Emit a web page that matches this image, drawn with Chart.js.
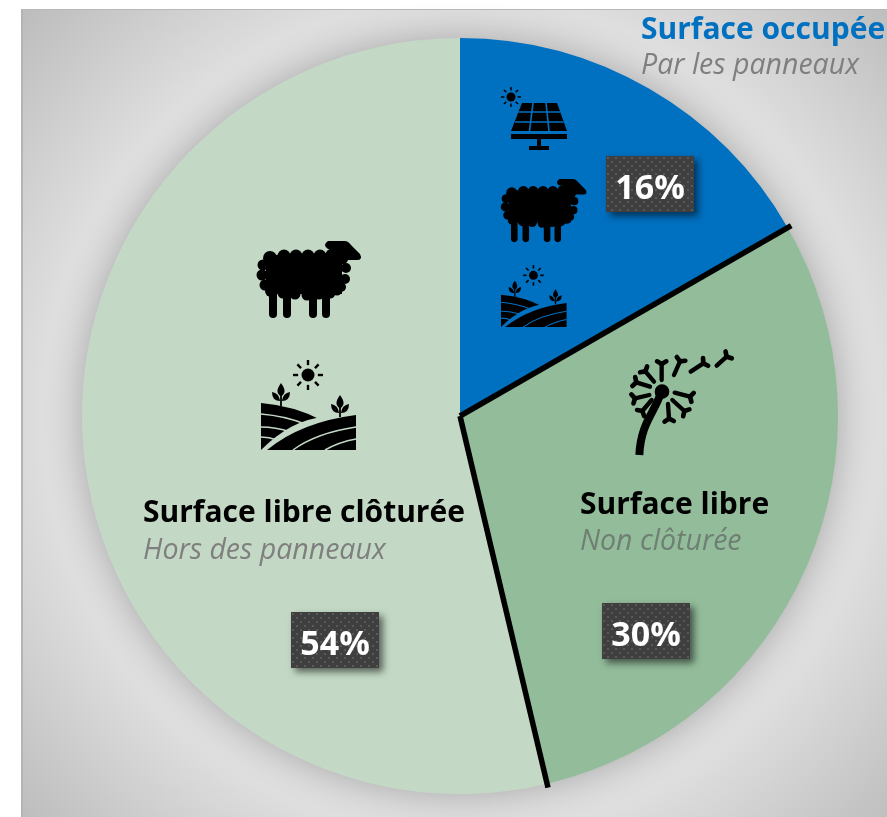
<!DOCTYPE html>
<html lang="fr">
<head>
<meta charset="utf-8">
<title>Surface</title>
<script src="https://cdn.jsdelivr.net/npm/chart.js@4"></script>
<style>
  html, body { margin: 0; padding: 0; background: #fff; overflow: hidden; }
  #fond {
    position: absolute; left: 21px; top: 9px; width: 866px; height: 808px;
    box-sizing: border-box;
    border-left: 2px solid #b4b4b4; border-top: 1px solid #b8b8b8;
    background: radial-gradient(circle at 439px 407px, #e0e0e0 0, #dedede 420px, #bcbcbc 600px);
  }
  #graphique { position: absolute; left: 0; top: 0; }
</style>
</head>
<body>
<div id="fond"></div>
<canvas id="graphique" width="887" height="817"></canvas>
<script>
// Donnees du graphique
const categories = ["Surface occupée", "Surface libre", "Surface libre clôturée"];
const sousTitres = ["Par les panneaux", "Non clôturée", "Hors des panneaux"];
const parts = [16.7, 29.6, 53.7];
const etiquettes = ["16%", "30%", "54%"];
const couleurs = ["#0070c0", "#93bc9b", "#c3d9c5"];

const POLICE = '"Open Sans", "Noto Sans", sans-serif';

// Motif de points des etiquettes
function creerMotif(ctx) {
  const c = document.createElement("canvas");
  c.width = 8;
  c.height = 8;
  const p = c.getContext("2d");
  p.fillStyle = "#3f3f3f";
  p.fillRect(0, 0, 8, 8);
  p.fillStyle = "#595959";
  p.fillRect(1, 1, 2, 2);
  p.fillRect(5, 5, 2, 2);
  return ctx.createPattern(c, "repeat");
}

function dessinerEtiquette(ctx, texte, x, y) {
  ctx.save();
  ctx.shadowColor = "rgba(0,0,0,0.55)";
  ctx.shadowBlur = 7;
  ctx.shadowOffsetX = 4;
  ctx.shadowOffsetY = 4;
  ctx.fillStyle = "#3f3f3f";
  ctx.fillRect(x, y, 88, 56);
  ctx.restore();
  ctx.save();
  ctx.translate(x, y);
  ctx.fillStyle = creerMotif(ctx);
  ctx.fillRect(0, 0, 88, 56);
  ctx.restore();
  ctx.fillStyle = "#fff";
  ctx.font = "bold 34px " + POLICE;
  ctx.textAlign = "center";
  ctx.textBaseline = "alphabetic";
  ctx.fillText(texte, x + 44, y + 43);
}

function dessinerTexte(ctx, texte, x, y, font, couleur) {
  ctx.font = font;
  ctx.fillStyle = couleur;
  ctx.textAlign = "left";
  ctx.textBaseline = "alphabetic";
  ctx.fillText(texte, x, y);
}

function dessinerMouton(ctx, x, y, k) {
  ctx.save();
  ctx.translate(x, y);
  ctx.scale(k, k);
  ctx.fillStyle = "#000";
  ctx.strokeStyle = "#000";
  // pattes
  ctx.lineCap = "round";
  ctx.lineWidth = 8;
  [15, 29, 55, 68].forEach((px) => {
    ctx.beginPath();
    ctx.moveTo(px, 42);
    ctx.lineTo(px, 73);
    ctx.stroke();
  });
  // corps
  ctx.fillRect(8, 14, 76, 39);
  [[12, 17, 7], [26, 15, 6.5], [38, 15, 6.5], [50, 15, 6.5], [62, 15, 6.5], [74, 14, 6.5],
   [84, 17, 6.5], [5, 24, 5.5], [4, 34, 5.5], [7, 44, 5.5], [88, 27, 5], [87, 38, 5],
   [83, 46, 5], [13, 50, 6], [25, 52, 5.5], [37, 53, 5.5], [49, 54, 5.5], [61, 53, 5.5],
   [72, 52, 5.5], [79, 50, 4.5]].forEach((c) => {
    ctx.beginPath();
    ctx.arc(c[0], c[1], c[2], 0, Math.PI * 2);
    ctx.fill();
  });
  // tete
  ctx.beginPath();
  ctx.moveTo(70, 0);
  ctx.lineTo(87, 0);
  ctx.quadraticCurveTo(90, 0, 93, 4);
  ctx.lineTo(102, 13);
  ctx.quadraticCurveTo(105, 19, 99, 19);
  ctx.lineTo(80, 19);
  ctx.lineTo(72, 14);
  ctx.lineTo(74, 8);
  ctx.lineTo(70, 8);
  ctx.quadraticCurveTo(64, 4, 70, 0);
  ctx.fill();
  ctx.restore();
}

function dessinerSoleil(ctx, x, y, r, rayon, largeur) {
  ctx.save();
  ctx.fillStyle = "#000";
  ctx.strokeStyle = "#000";
  ctx.lineWidth = largeur;
  ctx.beginPath();
  ctx.arc(x, y, r, 0, Math.PI * 2);
  ctx.fill();
  for (let i = 0; i < 8; i++) {
    const a = (i * Math.PI) / 4;
    ctx.beginPath();
    ctx.moveTo(x + Math.cos(a) * (r + largeur * 1.4), y + Math.sin(a) * (r + largeur * 1.4));
    ctx.lineTo(x + Math.cos(a) * rayon, y + Math.sin(a) * rayon);
    ctx.stroke();
  }
  ctx.restore();
}

function dessinerPlante(ctx, x, haut, bas) {
  ctx.strokeStyle = "#000";
  ctx.fillStyle = "#000";
  ctx.lineWidth = 1.8;
  ctx.beginPath();
  ctx.moveTo(x, haut + 6);
  ctx.lineTo(x, bas);
  ctx.stroke();
  ctx.beginPath();
  ctx.moveTo(x, haut);
  ctx.bezierCurveTo(x + 2, haut + 3, x + 4, haut + 6, x + 3.5, haut + 9);
  ctx.quadraticCurveTo(x + 2, haut + 13, x, haut + 13);
  ctx.quadraticCurveTo(x - 2, haut + 13, x - 3.5, haut + 9);
  ctx.bezierCurveTo(x - 4, haut + 6, x - 2, haut + 3, x, haut);
  ctx.fill();
  [-1, 1].forEach((s) => {
    ctx.beginPath();
    ctx.moveTo(x + s * 0.8, haut + 18);
    ctx.quadraticCurveTo(x + s * 9, haut + 18, x + s * 9, haut + 9);
    ctx.quadraticCurveTo(x + s * 2, haut + 10, x + s * 0.8, haut + 18);
    ctx.fill();
  });
}

function dessinerChamp(ctx, x, y, k, fond) {
  ctx.save();
  ctx.translate(x, y);
  ctx.scale(k, k);
  dessinerSoleil(ctx, 47, 15, 6.5, 15, 2.4);
  dessinerPlante(ctx, 20, 23, 46);
  dessinerPlante(ctx, 79, 35, 57);
  ctx.fillStyle = "#000";
  // colline gauche
  ctx.beginPath();
  ctx.moveTo(0, 43);
  ctx.quadraticCurveTo(34, 46, 60, 60);
  ctx.lineTo(60, 90);
  ctx.lineTo(0, 90);
  ctx.closePath();
  ctx.fill();
  ctx.strokeStyle = fond;
  ctx.lineWidth = 1.5;
  [[0, 54, 24, 56, 44, 64], [0, 67, 14, 67, 30, 72], [0, 77, 8, 77, 16, 80]].forEach((s) => {
    ctx.beginPath();
    ctx.moveTo(s[0], s[1]);
    ctx.quadraticCurveTo(s[2], s[3], s[4], s[5]);
    ctx.stroke();
  });
  // colline droite
  ctx.fillStyle = fond;
  ctx.beginPath();
  ctx.moveTo(0, 90);
  ctx.quadraticCurveTo(30, 60, 62, 57);
  ctx.lineTo(62, 90);
  ctx.closePath();
  ctx.fill();
  ctx.fillStyle = "#000";
  ctx.beginPath();
  ctx.moveTo(6, 90);
  ctx.quadraticCurveTo(40, 62, 95, 55);
  ctx.lineTo(95, 90);
  ctx.closePath();
  ctx.fill();
  [[32, 90, 55, 73, 95, 67], [64, 90, 78, 82, 95, 79]].forEach((s) => {
    ctx.beginPath();
    ctx.moveTo(s[0], s[1]);
    ctx.quadraticCurveTo(s[2], s[3], s[4], s[5]);
    ctx.stroke();
  });
  ctx.restore();
}

function dessinerPanneau(ctx, fond) {
  dessinerSoleil(ctx, 511, 97, 4.5, 10, 1.5);
  ctx.fillStyle = "#000";
  ctx.beginPath();
  ctx.moveTo(522, 103);
  ctx.lineTo(557, 103);
  ctx.lineTo(567, 131);
  ctx.lineTo(511, 131);
  ctx.closePath();
  ctx.fill();
  ctx.fillRect(511, 134, 56, 5);
  ctx.fillRect(537, 139, 4, 8);
  ctx.fillRect(529, 146, 20, 4);
  ctx.strokeStyle = fond;
  ctx.lineWidth = 1.6;
  [[518.5, 112, 560.5, 112], [515, 122, 563.5, 122], [533, 103, 529.5, 131], [546, 103, 549, 131]].forEach((s) => {
    ctx.beginPath();
    ctx.moveTo(s[0], s[1]);
    ctx.lineTo(s[2], s[3]);
    ctx.stroke();
  });
}

function dessinerPissenlit(ctx) {
  ctx.save();
  ctx.translate(600, 340);
  ctx.scale(1 / 3, 1 / 3);
  ctx.fillStyle = "#000";
  ctx.strokeStyle = "#000";
  ctx.beginPath();
  ctx.arc(186, 155, 22, 0, Math.PI * 2);
  ctx.fill();
  ctx.lineWidth = 24;
  ctx.beginPath();
  ctx.moveTo(182, 160);
  ctx.bezierCurveTo(165, 215, 122, 250, 118, 345);
  ctx.stroke();
  ctx.lineCap = "round";
  const graines = [
    [185, 120, 185, 72], [222, 105, 240, 64], [272, 95, 310, 70], [350, 77, 380, 50],
    [224, 158, 270, 170], [217, 180, 253, 213], [204, 192, 207, 236], [155, 180, 127, 213],
    [148, 165, 105, 175], [150, 140, 109, 127], [162, 125, 136, 94],
  ];
  graines.forEach((g) => {
    const a = Math.atan2(g[3] - g[1], g[2] - g[0]);
    ctx.lineWidth = 13;
    ctx.beginPath();
    ctx.moveTo(g[0], g[1]);
    ctx.lineTo(g[2], g[3]);
    ctx.stroke();
    [-1, 1].forEach((s) => {
      ctx.lineWidth = 14;
      ctx.beginPath();
      ctx.moveTo(g[2], g[3]);
      ctx.lineTo(g[2] + Math.cos(a + s * 1.05) * 16, g[3] + Math.sin(a + s * 1.05) * 16);
      ctx.stroke();
    });
  });
  ctx.restore();
}

// Ombre autour du camembert
const ombrePlugin = {
  id: "ombre",
  beforeDatasetsDraw(chart) {
    const arc = chart.getDatasetMeta(0).data[0];
    const ctx = chart.ctx;
    ctx.save();
    ctx.shadowColor = "rgba(0,0,0,0.26)";
    ctx.shadowBlur = 36;
    ctx.fillStyle = "#ddd";
    ctx.beginPath();
    ctx.arc(arc.x, arc.y, arc.outerRadius - 1, 0, Math.PI * 2);
    ctx.fill();
    ctx.restore();
  },
};

// Traits noirs, icones et textes par dessus les parts
const decorPlugin = {
  id: "decor",
  afterDatasetsDraw(chart) {
    const ctx = chart.ctx;
    const arcs = chart.getDatasetMeta(0).data;
    ctx.save();
    ctx.strokeStyle = "#000";
    ctx.lineWidth = 5.5;
    [arcs[0], arcs[1]].forEach((arc) => {
      const r = arc.outerRadius + 4;
      ctx.beginPath();
      ctx.moveTo(arc.x, arc.y);
      ctx.lineTo(arc.x + Math.cos(arc.endAngle) * r, arc.y + Math.sin(arc.endAngle) * r);
      ctx.stroke();
    });

    dessinerPanneau(ctx, couleurs[0]);
    dessinerMouton(ctx, 502, 179, 0.82);
    dessinerChamp(ctx, 501, 265, 0.69, couleurs[0]);
    dessinerPissenlit(ctx);
    dessinerMouton(ctx, 258, 241, 1);
    dessinerChamp(ctx, 261, 360, 1, couleurs[2]);

    dessinerTexte(ctx, categories[0], 641, 39, "bold 30px " + POLICE, couleurs[0]);
    dessinerTexte(ctx, sousTitres[0], 641, 74, "italic 28.5px " + POLICE, "#7f7f7f");
    dessinerTexte(ctx, categories[1], 580, 514, "bold 30px " + POLICE, "#000");
    dessinerTexte(ctx, sousTitres[1], 580, 550, "italic 28.5px " + POLICE, "#6f7f73");
    dessinerTexte(ctx, categories[2], 143, 522, "bold 30px " + POLICE, "#000");
    dessinerTexte(ctx, sousTitres[2], 143, 559, "italic 28.5px " + POLICE, "#7f7f7f");

    dessinerEtiquette(ctx, etiquettes[0], 606, 156);
    dessinerEtiquette(ctx, etiquettes[1], 602, 603);
    dessinerEtiquette(ctx, etiquettes[2], 291, 612);
    ctx.restore();
  },
};

new Chart(document.getElementById("graphique"), {
  type: "pie",
  data: {
    labels: categories,
    datasets: [{ data: parts, backgroundColor: couleurs, borderWidth: 0 }],
  },
  options: {
    responsive: false,
    animation: false,
    layout: { padding: { left: 82, top: 38, right: 49, bottom: 23 } },
    plugins: { legend: { display: false }, tooltip: { enabled: false } },
  },
  plugins: [ombrePlugin, decorPlugin],
});
</script>
</body>
</html>
